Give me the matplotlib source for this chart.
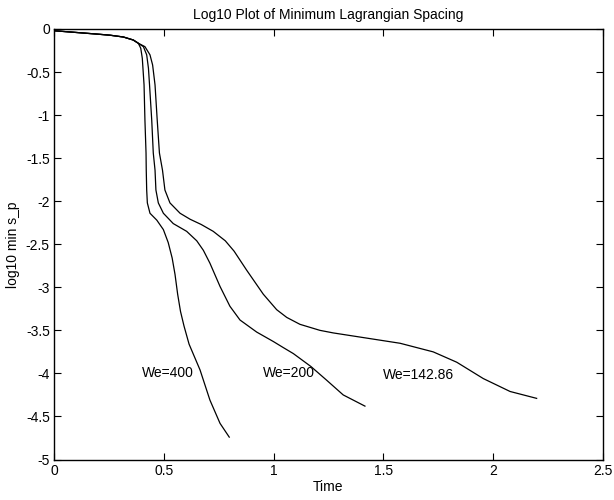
import matplotlib
matplotlib.use("Agg")
from matplotlib import pyplot as plt
from matplotlib.ticker import FuncFormatter

plt.rcParams['font.family'] = ['Liberation Sans', 'DejaVu Sans']
plt.rcParams['axes.unicode_minus'] = False

# common early part of all three runs
tCommon = [0.0, 0.1, 0.2, 0.255, 0.316, 0.361, 0.384]
sCommon = [-0.02, -0.04, -0.06, -0.072, -0.093, -0.128, -0.166]

t400 = [0.395, 0.402, 0.407, 0.41, 0.414, 0.419, 0.42, 0.422, 0.425, 0.437,
        0.468, 0.498, 0.52, 0.538, 0.551, 0.563, 0.576, 0.592, 0.615, 0.665,
        0.71, 0.756, 0.798]
s400 = [-0.224, -0.34, -0.534, -0.65, -1.06, -1.44, -1.64, -1.87, -2.02, -2.14,
        -2.22, -2.33, -2.48, -2.66, -2.85, -3.08, -3.28, -3.45, -3.66, -3.96,
        -4.31, -4.58, -4.74]

t200 = [0.407, 0.422, 0.43, 0.435, 0.445, 0.452, 0.46, 0.464, 0.475, 0.498,
        0.543, 0.604, 0.65, 0.68, 0.71, 0.756, 0.801, 0.847, 0.923, 0.999,
        1.044, 1.09, 1.17, 1.242, 1.317, 1.416]
s200 = [-0.205, -0.30, -0.456, -0.65, -1.06, -1.44, -1.64, -1.87, -2.02, -2.14,
        -2.26, -2.35, -2.46, -2.57, -2.72, -2.99, -3.22, -3.38, -3.52, -3.63,
        -3.70, -3.77, -3.92, -4.08, -4.25, -4.38]

t142 = [0.414, 0.437, 0.449, 0.46, 0.47, 0.48, 0.494, 0.505, 0.528, 0.574,
        0.62, 0.67, 0.725, 0.78, 0.82, 0.877, 0.953, 1.014, 1.06, 1.12,
        1.211, 1.272, 1.424, 1.576, 1.727, 1.834, 1.955, 2.077, 2.198]
s142 = [-0.205, -0.30, -0.418, -0.65, -1.06, -1.44, -1.64, -1.87, -2.02, -2.14,
        -2.21, -2.27, -2.35, -2.46, -2.58, -2.80, -3.08, -3.26, -3.35, -3.43,
        -3.50, -3.53, -3.59, -3.65, -3.75, -3.87, -4.06, -4.21, -4.29]

labels = ["We=400", "We=200", "We=142.86"]
labelX = [0.40, 0.953, 1.50]
labelY = [-4.0, -4.0, -4.02]

fig = plt.figure(figsize=(6.14, 5.0), dpi=100)
ax = fig.add_axes([0.088, 0.081, 0.894, 0.861])

for tt, ss in [(t400, s400), (t200, s200), (t142, s142)]:
    ax.plot(tCommon + tt, sCommon + ss, color='black', lw=0.9,
            solid_joinstyle='round')

for lab, lx, ly in zip(labels, labelX, labelY):
    ax.text(lx, ly, lab, fontsize=10, va='center', ha='left')

ax.set_xlim(0, 2.5)
ax.set_ylim(-5, 0)
ax.set_xticks([0, 0.5, 1, 1.5, 2, 2.5])
ax.set_yticks([0, -0.5, -1, -1.5, -2, -2.5, -3, -3.5, -4, -4.5, -5])
ax.xaxis.set_major_formatter(FuncFormatter(lambda v, p: "%g" % v))
ax.yaxis.set_major_formatter(FuncFormatter(lambda v, p: "%g" % v))
ax.tick_params(direction='in', top=True, right=True, length=5, width=0.8,
               labelsize=10, pad=3)
for sp in ax.spines.values():
    sp.set_linewidth(1.0)

ax.set_title("Log10 Plot of Minimum Lagrangian Spacing", fontsize=10, pad=7)
ax.set_xlabel("Time", fontsize=10, labelpad=2)
ax.set_ylabel("log10 min s_p", fontsize=10, labelpad=4)

fig.savefig("out.png", dpi=100)
